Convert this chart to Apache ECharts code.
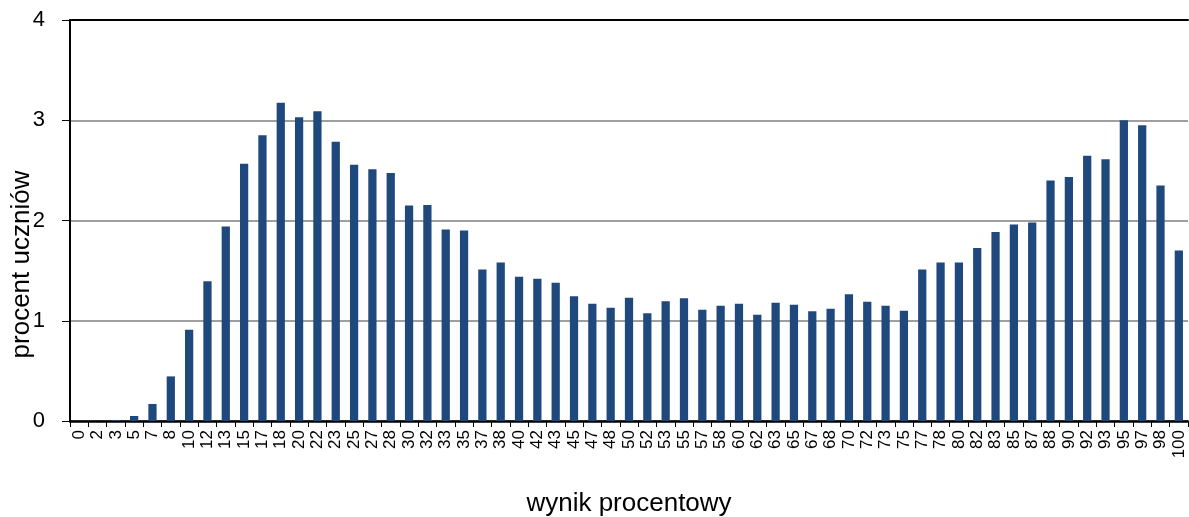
<!DOCTYPE html>
<html>
<head>
<meta charset="utf-8">
<script src="https://cdn.jsdelivr.net/npm/echarts@6/dist/echarts.min.js"></script>
<style>
html,body{margin:0;padding:0;background:#fff;}
#chart{width:1189px;height:517px;}
</style>
</head>
<body>
<div id="chart"></div>
<script>
const categories = ['0','2','3','5','7','8','10','12','13','15','17','18','20','22','23','25','27','28','30','32','33','35','37','38','40','42','43','45','47','48','50','52','53','55','57','58','60','62','63','65','67','68','70','72','73','75','77','78','80','82','83','85','87','88','90','92','93','95','97','98','100'];
const values = [0.0,0.0,0.01,0.05,0.17,0.445,0.91,1.395,1.94,2.565,2.85,3.175,3.03,3.09,2.785,2.555,2.51,2.475,2.15,2.155,1.91,1.90,1.51,1.58,1.44,1.42,1.38,1.245,1.17,1.13,1.23,1.075,1.195,1.225,1.11,1.15,1.17,1.06,1.18,1.16,1.095,1.12,1.265,1.19,1.15,1.10,1.51,1.58,1.58,1.725,1.885,1.96,1.98,2.40,2.435,2.645,2.61,3.00,2.95,2.35,1.70];
const yTicks = [0,1,2,3,4];
const xTitle = 'wynik procentowy';
const yTitle = 'procent uczniów';

const chart = echarts.init(document.getElementById('chart'));
const font = 'Liberation Sans, Arial, sans-serif';
chart.setOption({
  animation: false,
  grid: {left: 70, right: 1, top: 20, bottom: 96, containLabel: false, outerBoundsMode: 'none'},
  xAxis: [{
    type: 'category',
    data: categories,
    boundaryGap: true,
    axisLine: {show: true, lineStyle: {color: '#000', width: 2.5}},
    axisTick: {show: true, alignWithLabel: false, interval: 0, length: 6, lineStyle: {color: '#000', width: 1}},
    axisLabel: {interval: 0, rotate: 90, margin: 9, color: '#000', fontSize: 17, fontFamily: font},
    name: xTitle,
    nameLocation: 'middle',
    nameGap: 70,
    nameMoveOverlap: false,
    nameTextStyle: {color: '#000', fontSize: 26, fontFamily: font, verticalAlign: 'top'}
  }, {
    type: 'category',
    data: categories,
    position: 'top',
    axisLine: {show: true, lineStyle: {color: '#000', width: 2}},
    axisTick: {show: false},
    axisLabel: {show: false}
  }],
  yAxis: {
    type: 'value',
    min: yTicks[0],
    max: yTicks[yTicks.length - 1],
    interval: 1,
    axisLine: {show: true, lineStyle: {color: '#000', width: 2}},
    axisTick: {show: true, length: 8, lineStyle: {color: '#000', width: 1}},
    axisLabel: {margin: 25, color: '#000', fontSize: 22, fontFamily: font},
    splitLine: {show: true, lineStyle: {color: '#7f7f7f', width: 1.5}},
    name: yTitle,
    nameLocation: 'middle',
    nameGap: 48,
    nameRotate: 90,
    nameMoveOverlap: false,
    nameTextStyle: {color: '#000', fontSize: 26, fontFamily: font, verticalAlign: 'middle', padding: [0, 88, 0, 0]}
  },
  series: [{
    type: 'bar',
    data: values,
    barCategoryGap: '55%',
    itemStyle: {color: '#1f497d'}
  }]
});
</script>
</body>
</html>
